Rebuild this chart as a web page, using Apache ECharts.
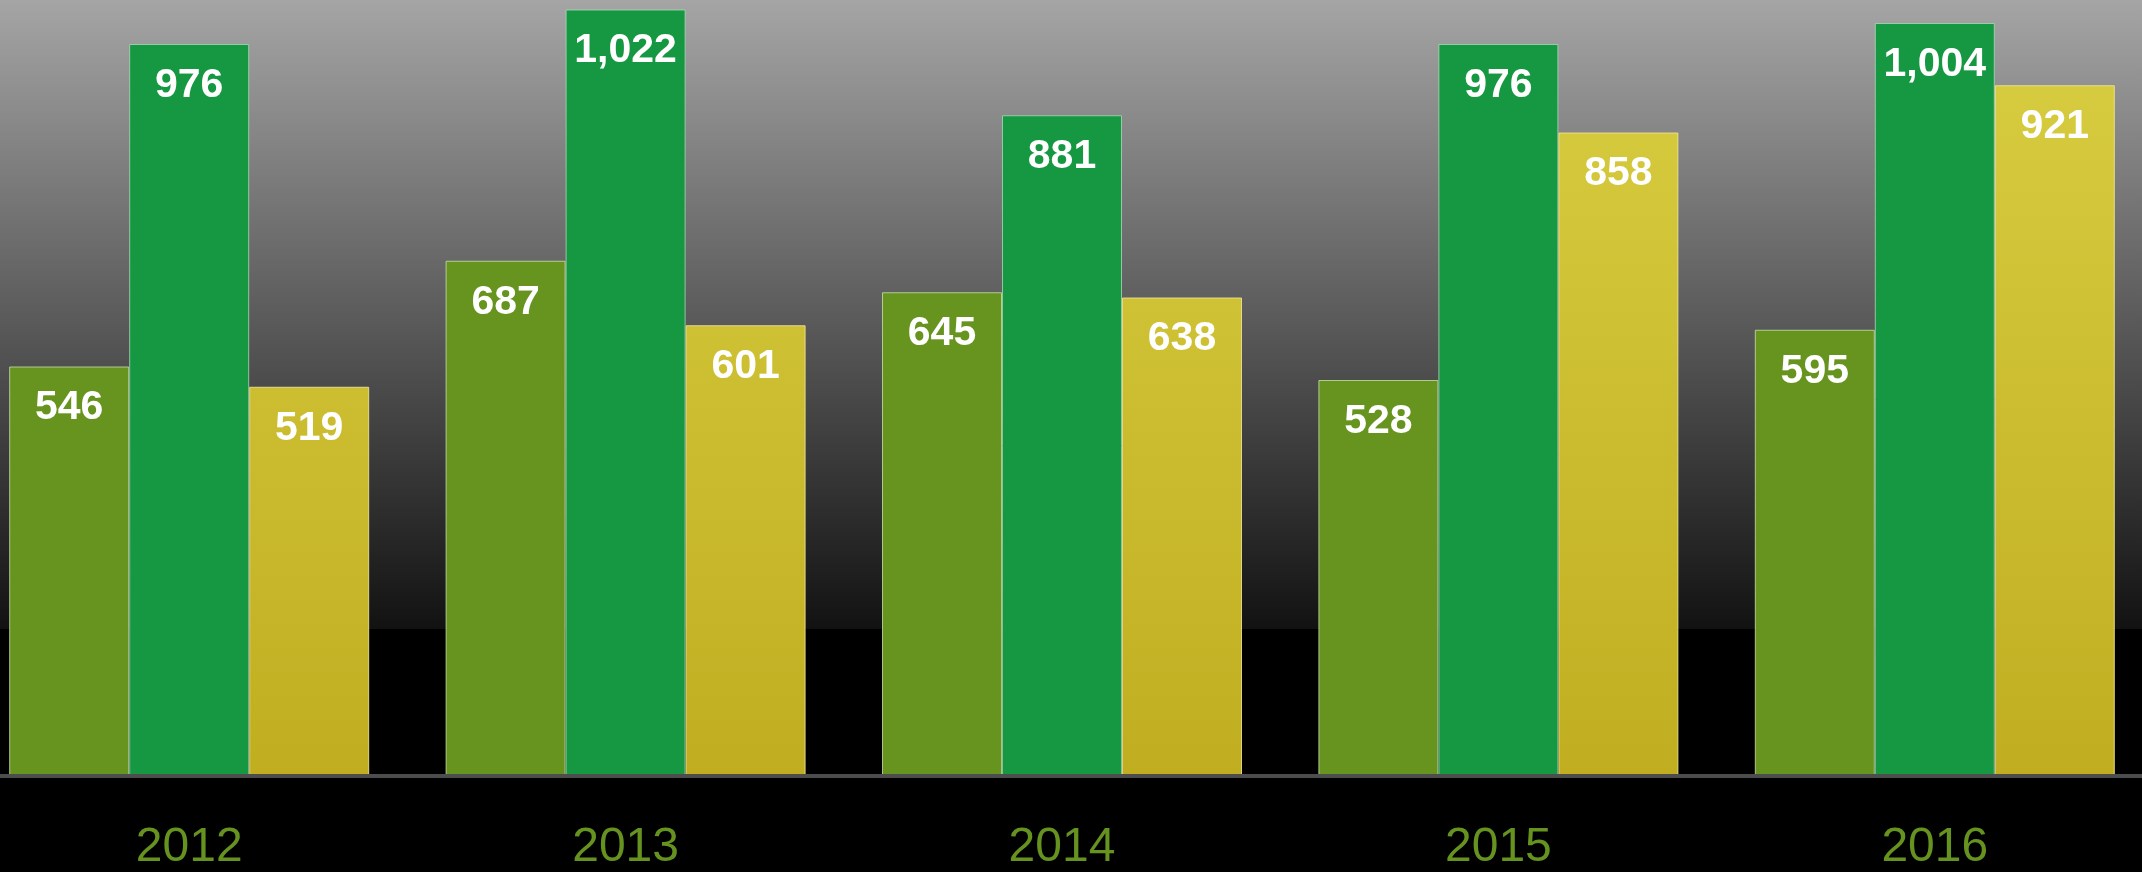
<!DOCTYPE html>
<html>
<head>
<meta charset="utf-8">
<title>bar chart</title>
<script src="https://cdn.jsdelivr.net/npm/echarts@6/dist/echarts.min.js"></script>
<style>
  html, body {
    margin: 0;
    padding: 0;
    background: #000;
    overflow: hidden;
  }
  /* the first and last groups sit close to the edges, so the plot is a bit wider than the window */
  #chart {
    position: absolute;
    left: -29px;
    top: 0;
    width: 2182px;
    height: 872px;
  }
</style>
</head>
<body>
<div id="chart"></div>
<script>
// data
const years = ['2012', '2013', '2014', '2015', '2016']
const seriesA = [546, 687, 645, 528, 595]
const seriesB = [976, 1022, 881, 976, 1004]
const seriesC = [519, 601, 638, 858, 921]

const labelFont = "'Liberation Sans', Arial, sans-serif"

const barLabel = {
  show: true,
  position: 'insideTop',
  distance: 21,
  color: '#fff',
  fontSize: 41,
  fontWeight: 'bold',
  fontFamily: labelFont,
  formatter: (p) => p.value.toLocaleString('en-US')
}

const myChart = echarts.init(document.getElementById('chart'))
const option = {
  animation: false,
  // grey fade at the top, plain black under it
  backgroundColor: {
    type: 'linear',
    x: 0, y: 0, x2: 0, y2: 1,
    colorStops: [
      { offset: 0, color: '#a5a5a5' },
      { offset: 0.721, color: '#121212' },
      { offset: 0.7211, color: '#000' },
      { offset: 1, color: '#000' }
    ]
  },
  grid: {
    left: 0,
    right: 0,
    top: 2,
    bottom: 96
  },
  xAxis: {
    type: 'category',
    data: years,
    z: 5,
    axisLine: {
      show: true,
      lineStyle: { color: '#4d4d4d', width: 4 }
    },
    axisTick: { show: false },
    axisLabel: {
      margin: 48,
      color: '#66931f',
      fontSize: 48,
      fontFamily: labelFont
    }
  },
  yAxis: {
    type: 'value',
    min: 0,
    max: 1032,
    show: false,
    splitLine: { show: false }
  },
  series: [
    {
      name: 'a',
      type: 'bar',
      barWidth: 120,
      barGap: '0%',
      data: seriesA,
      itemStyle: {
        color: '#67931f',
        borderColor: 'rgba(200,225,170,0.8)',
        borderWidth: 1
      },
      label: barLabel
    },
    {
      name: 'b',
      type: 'bar',
      barWidth: 120,
      barGap: '0%',
      data: seriesB,
      itemStyle: {
        color: '#169842',
        borderColor: 'rgba(170,215,185,0.8)',
        borderWidth: 1
      },
      label: barLabel
    },
    {
      name: 'c',
      type: 'bar',
      barWidth: 120,
      barGap: '0%',
      data: seriesC,
      itemStyle: {
        color: {
          type: 'linear',
          global: true,
          x: 0, y: 0, x2: 0, y2: 776,
          colorStops: [
            { offset: 0, color: '#d9ce42' },
            { offset: 1, color: '#c0ae20' }
          ]
        },
        borderColor: 'rgba(240,230,150,0.85)',
        borderWidth: 1
      },
      label: barLabel
    }
  ]
}
myChart.setOption(option)
</script>
</body>
</html>
